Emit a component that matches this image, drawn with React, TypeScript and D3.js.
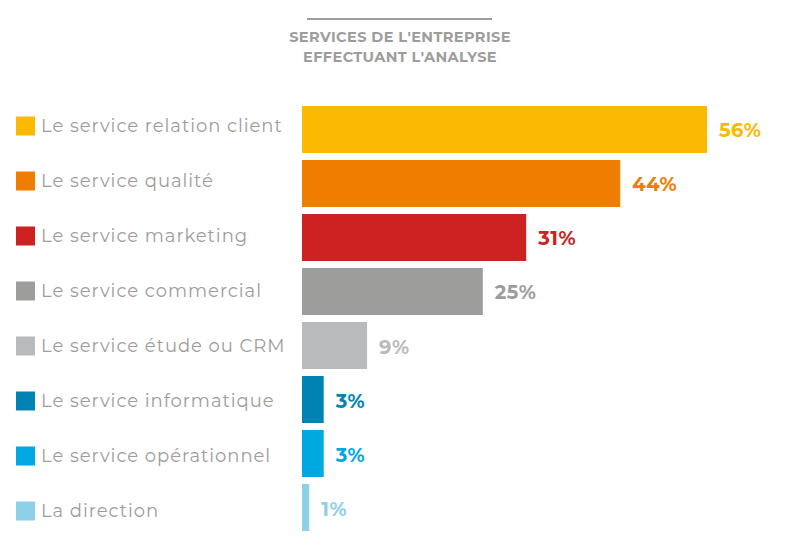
import React from "react";
import * as d3 from "d3";

const categories = [
  "Le service relation client",
  "Le service qualité",
  "Le service marketing",
  "Le service commercial",
  "Le service étude ou CRM",
  "Le service informatique",
  "Le service opérationnel",
  "La direction",
];
const values = [56, 44, 31, 25, 9, 3, 3, 1];
const colors = ["#FBBA00", "#EF7D00", "#CC2222", "#9D9D9C", "#B9BABB", "#0083B3", "#00A8E1", "#8ED0E8"];
const titleLines = ["SERVICES DE L'ENTREPRISE", "EFFECTUANT L'ANALYSE"];

export default function App() {
  const W = 800, H = 550;
  const x = d3.scaleLinear().domain([0, 56]).range([302, 707]);
  const y = d3.scaleBand<string>().domain(categories).range([106, 531]).paddingInner(0.13).paddingOuter(0);
  const ly = d3.scalePoint<string>().domain(categories).range([126, 511]);
  const font = "Montserrat, 'Noto Sans', 'Open Sans', sans-serif";
  return (
    <svg width={W} height={H} style={{ position: "absolute", left: 0, top: 0 }}>
      <rect width={W} height={H} fill="#fff" />
      <line x1={307} x2={492} y1={19} y2={19} stroke="#9D9D9C" strokeWidth={2} />
      {titleLines.map((t, i) => (
        <text key={i} x={400} y={42 + i * 20} textAnchor="middle" fontFamily={font} fontWeight={700} fontSize={14.5} letterSpacing={0.4} fill="#9D9D9C">{t}</text>
      ))}
      {categories.map((c, i) => {
        const yy = y(c)!;
        const bh = y.bandwidth();
        const cy = yy + bh / 2;
        const lc = ly(c)!;
        return (
          <g key={c}>
            <rect x={16} y={lc - 9.5} width={19} height={19} fill={colors[i]} />
            <text x={41} y={lc + 6} fontFamily={font} fontSize={18} fill="#9D9D9C" letterSpacing={0.95}>{c}</text>
            <rect x={x(0)} y={yy} width={x(values[i]) - x(0)} height={bh} fill={colors[i]} />
            <text x={x(values[i]) + 12} y={cy + 8} fontFamily={font} fontWeight={700} fontSize={19.5} letterSpacing={0.5} fill={colors[i]}>{values[i]}%</text>
          </g>
        );
      })}
    </svg>
  );
}
